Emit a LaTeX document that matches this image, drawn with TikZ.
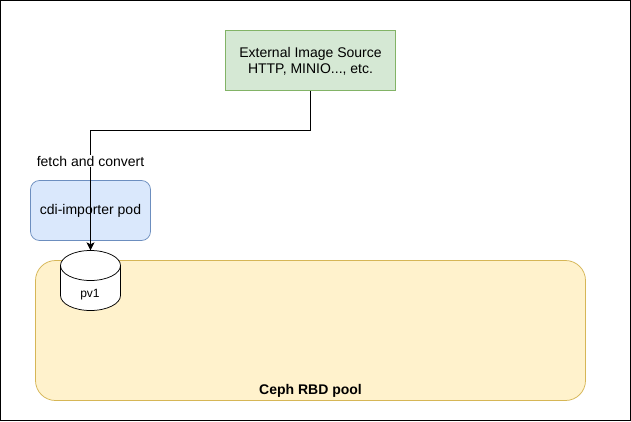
\documentclass[tikz,border=0pt]{standalone}
\usepackage{fontspec}
\setmainfont{Liberation Sans}
\usetikzlibrary{arrows.meta}
\definecolor{greenfill}{HTML}{D5E8D4}
\definecolor{greenline}{HTML}{82B366}
\definecolor{bluefill}{HTML}{DAE8FC}
\definecolor{blueline}{HTML}{6C8EBF}
\definecolor{yellowfill}{HTML}{FFF2CC}
\definecolor{yellowline}{HTML}{D6B656}
\tikzset{
  txt/.style={font=\fontsize{14}{16}\selectfont, text=black, align=center, inner sep=0pt},
  boxnode/.style={txt, draw, line width=0.75pt},
  conn/.style={draw=black, line width=0.75pt},
}
\begin{document}
\begin{tikzpicture}[x=1pt,y=-1pt]
\useasboundingbox (0,0) rectangle (631,421);
\node[draw=black, line width=1pt, fill=white, minimum width=630pt, minimum height=420pt, inner sep=0pt] (frame) at (315.5,210.5) {};
% Ceph pool
\node[boxnode, draw=yellowline, fill=yellowfill, rounded corners=20pt, minimum width=550pt, minimum height=140pt] (pool) at (310.5,330.5) {};
\node[txt, font=\fontsize{14}{16}\selectfont\bfseries] (poollabel) at (310.5,391) {Ceph RBD pool};
% importer
\node[boxnode, draw=blueline, fill=bluefill, rounded corners=9pt, minimum width=120pt, minimum height=60pt] (pod) at (90.5,210.5) {};
\node[txt] (podlabel) at (90.5,211) {cdi-importer pod};
% source
\node[boxnode, draw=greenline, fill=greenfill, minimum width=170pt, minimum height=60pt] (src) at (310.5,60.5) {};
\node[txt] (srclabel) at (310.5,61) {External Image Source\\HTTP, MINIO..., etc.};
% cylinder
\draw[fill=white, draw=black, line width=0.75pt]
  (60.5,265.5) arc[start angle=180, end angle=360, x radius=30, y radius=15]
  -- (120.5,295.5) arc[start angle=0, end angle=180, x radius=30, y radius=15] -- cycle;
\draw[draw=black, line width=0.75pt] (60.5,265.5) arc[start angle=180, end angle=0, x radius=30, y radius=15];
\node[txt, minimum width=60pt, minimum height=60pt] (pv) at (90.5,280.5) {};
\node[txt, font=\fontsize{12}{14}\selectfont] (pvlabel) at (90,294.5) {pv1};
% connector
\coordinate (bendA) at (src.south |- 0,130.5);
\coordinate (bendB) at (pv.north |- 0,130.5);
\draw[conn, -{Stealth[length=8pt,width=8pt,inset=2pt]}] (src.south) -- (bendA) -- (bendB) -- (pv.north);
\node[txt, fill=white, inner xsep=1pt, inner ysep=1pt] (lab) at (90.5,161) {fetch and convert};
\end{tikzpicture}
\end{document}
